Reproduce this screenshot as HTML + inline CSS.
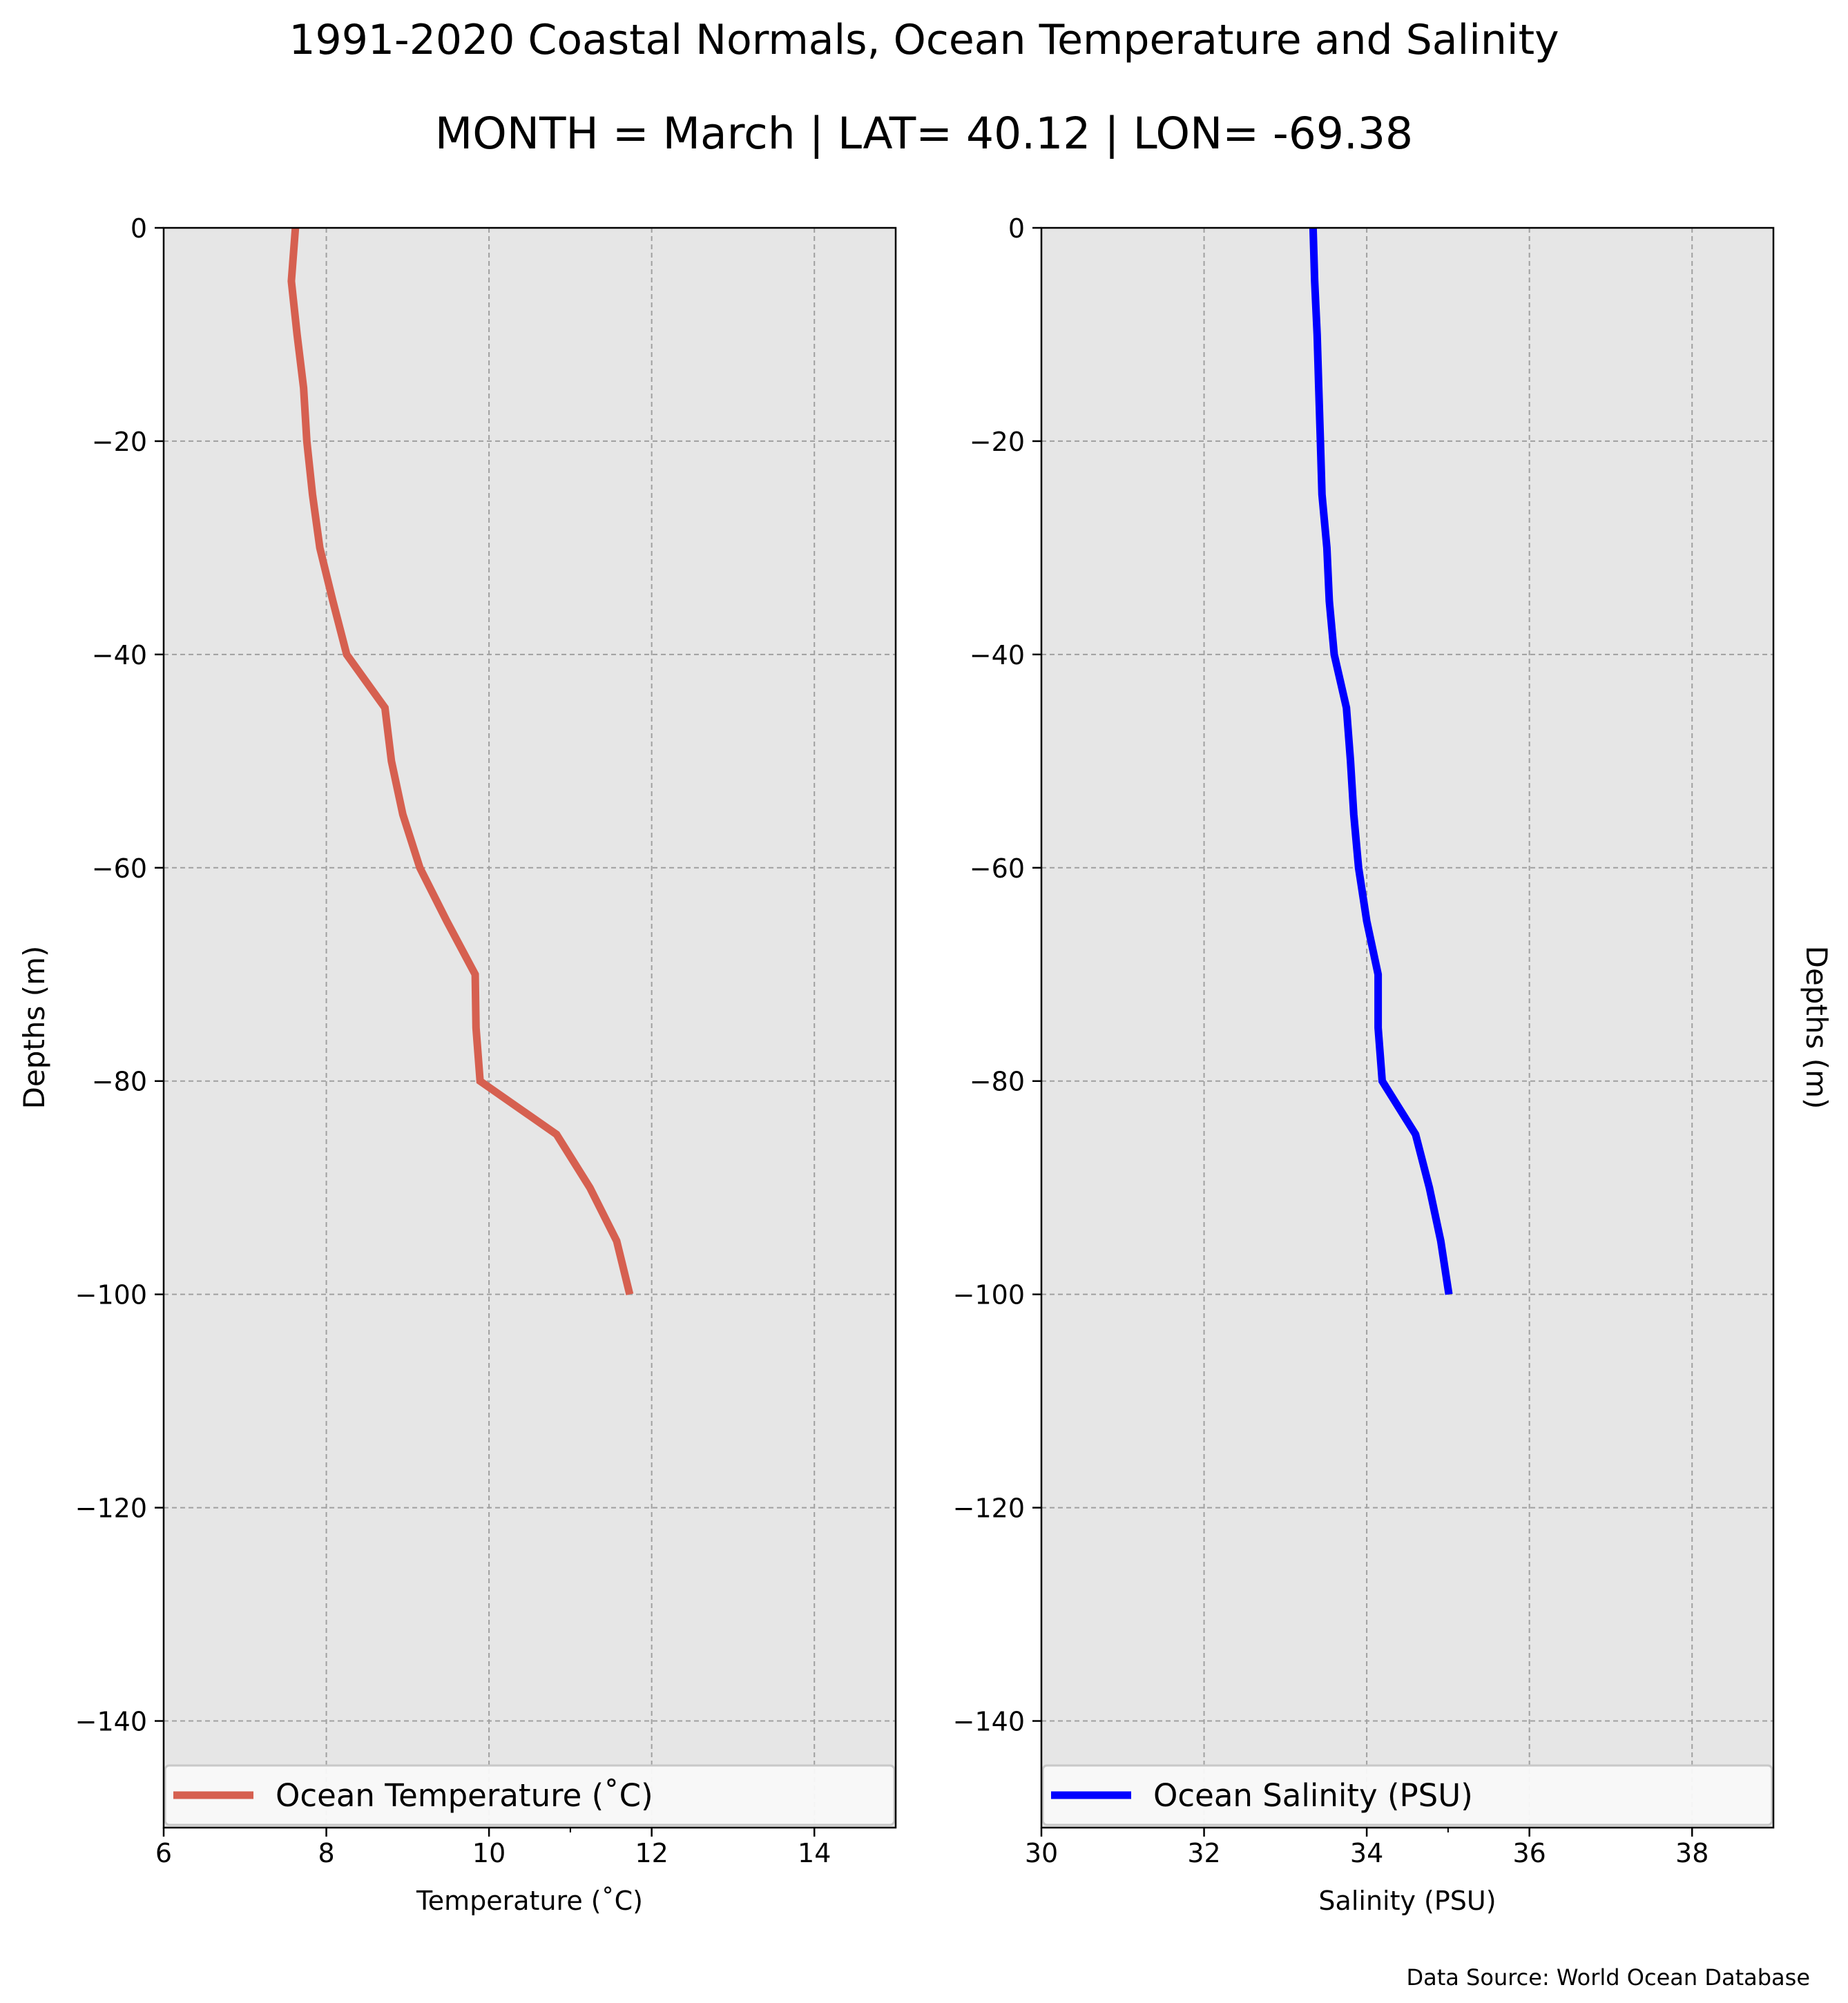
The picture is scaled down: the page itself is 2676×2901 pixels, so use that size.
<!DOCTYPE html>
<html><head><meta charset="utf-8"><style>
html,body{margin:0;padding:0;background:#fff;}
svg{display:block;font-family:"DejaVu Sans","Liberation Sans",sans-serif;}
</style></head><body>
<svg id="fig" width="2676" height="2901" viewBox="0 0 2676 2901" xmlns="http://www.w3.org/2000/svg">
<text x="1338" y="78" font-size="60" text-anchor="middle">1991-2020 Coastal Normals, Ocean Temperature and Salinity</text>
<text x="1338" y="215" font-size="63" text-anchor="middle">MONTH = March | LAT= 40.12 | LON= -69.38</text>
<text x="2621" y="2875" font-size="32" text-anchor="end">Data Source: World Ocean Database</text>
<g id="left"></g>
<g id="right"></g>
</svg>
<script>
const depths = [0,-5,-10,-15,-20,-25,-30,-35,-40,-45,-50,-55,-60,-65,-70,-75,-80,-85,-90,-95,-100];
const temperature = [7.62,7.57,7.64,7.72,7.76,7.83,7.92,8.08,8.25,8.72,8.80,8.94,9.15,9.48,9.83,9.84,9.89,10.83,11.24,11.57,11.73];
const salinity = [33.34,33.36,33.39,33.41,33.43,33.45,33.51,33.54,33.60,33.75,33.80,33.84,33.90,34.00,34.14,34.14,34.19,34.60,34.77,34.91,35.01];
const yTicks = [0,-20,-40,-60,-80,-100,-120,-140];
const tempTicks = [6,8,10,12,14];
const salTicks = [30,32,34,36,38];

const NS='http://www.w3.org/2000/svg';
const plotTop=330, plotBottom=2647, yMin=-150, yMax=0;
function yScale(v){return plotTop+(yMax-v)/(yMax-yMin)*(plotBottom-plotTop);}
function mk(parent,tag,attrs){const e=document.createElementNS(NS,tag);for(const k in attrs)e.setAttribute(k,attrs[k]);parent.appendChild(e);return e;}

function panel(g,x0,x1,xMin,xMax,xTicks,xs,color,legendText,xLabel,ylabelSide,minor){
  const xScale=v=>x0+(v-xMin)/(xMax-xMin)*(x1-x0);
  const bg=mk(g,'rect',{x:x0,y:plotTop,width:x1-x0,height:plotBottom-plotTop,fill:'#e6e6e6'});
  
  
  xTicks.forEach(t=>{
    const gl=mk(g,'line',{x1:xScale(t),x2:xScale(t),y1:plotTop,y2:plotBottom,stroke:'#a0a0a0','stroke-width':2,'stroke-dasharray':'7,5'});
    
    
    const tk=mk(g,'line',{x1:xScale(t),x2:xScale(t),y1:plotBottom,y2:plotBottom+13,stroke:'#000','stroke-width':2.5});
    
    
    const tl=mk(g,'text',{x:xScale(t),y:2697,'font-size':38,'text-anchor':'middle'});
    tl.textContent=t;
    
    
  });
  const mt=mk(g,'line',{x1:xScale(minor),x2:xScale(minor),y1:plotBottom,y2:plotBottom+7,stroke:'#000','stroke-width':2});
  
  
  yTicks.forEach(t=>{
    if(t!==0){
      const gl=mk(g,'line',{x1:x0,x2:x1,y1:yScale(t),y2:yScale(t),stroke:'#a0a0a0','stroke-width':2,'stroke-dasharray':'7,5'});
      
      
    }
    const tk=mk(g,'line',{x1:x0-13,x2:x0,y1:yScale(t),y2:yScale(t),stroke:'#000','stroke-width':2.5});
    
    
    const tl=mk(g,'text',{x:x0-24,y:yScale(t)+14,'font-size':38,'text-anchor':'end'});
    tl.textContent=(t<0?'\u2212'+(-t):t);
    
    
  });
  const pts=depths.map((d,i)=>xScale(xs[i]).toFixed(1)+','+yScale(d).toFixed(1)).join(' ');
  const ln=mk(g,'polyline',{points:pts,fill:'none',stroke:color,'stroke-width':11,'stroke-linejoin':'miter'});
  
  
  const lg=mk(g,'rect',{x:x0+2,y:2557,width:x1-x0-4,height:86,rx:6,fill:'#f9f9f9',stroke:'#c8c8c8','stroke-width':3,'fill-opacity':0.95});
  
  
  const ls=mk(g,'line',{x1:x0+14,x2:x0+130,y1:2600,y2:2600,stroke:color,'stroke-width':11});
  
  
  const lt=mk(g,'text',{x:x0+162,y:2616,'font-size':45});
  lt.textContent=legendText;
  
  
  const fr=mk(g,'rect',{x:x0,y:plotTop,width:x1-x0,height:plotBottom-plotTop,fill:'none',stroke:'#000','stroke-width':2.5});
  
  
  const xl=mk(g,'text',{x:(x0+x1)/2,y:2766,'font-size':38,'text-anchor':'middle'});
  xl.textContent=xLabel;
  
  
  let yl;
  if(ylabelSide==='left'){
    yl=mk(g,'text',{x:0,y:0,'font-size':42,'text-anchor':'middle',transform:'translate(64,1488) rotate(-90)'});
  } else {
    yl=mk(g,'text',{x:0,y:0,'font-size':42,'text-anchor':'middle',transform:'translate(2616,1488) rotate(90)'});
  }
  yl.textContent='Depths (m)';
  
  
}
panel(document.getElementById('left'),237,1297,6,15,tempTicks,temperature,'#d66050','Ocean Temperature (\u02DAC)','Temperature (\u02DAC)','left',11);
panel(document.getElementById('right'),1508,2568,30,39,salTicks,salinity,'#0000ff','Ocean Salinity (PSU)','Salinity (PSU)','right',35);
</script>
</body></html>
